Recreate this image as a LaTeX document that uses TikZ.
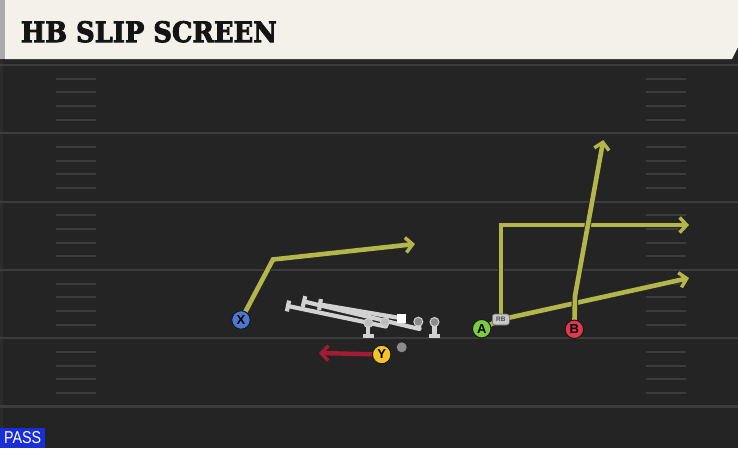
\documentclass[tikz,border=0pt]{standalone}
\usepackage{fontspec}
\usepackage{graphicx}
\setmainfont{Liberation Sans}
\newfontfamily\titlefont{DejaVu Serif}[BoldFeatures={FakeBold=3}]
\usetikzlibrary{arrows.meta,calc}
\definecolor{fieldc}{HTML}{242424}
\definecolor{linec}{HTML}{3C3C3C}
\definecolor{creamc}{HTML}{F4F1EA}
\definecolor{stripc}{HTML}{ABABAB}
\definecolor{routec}{HTML}{B4B54A}
\definecolor{redroute}{HTML}{A31B34}
\definecolor{blockc}{HTML}{D2D2D2}
\definecolor{passc}{HTML}{1A2ED8}
\definecolor{xc}{HTML}{4A78D2}
\definecolor{yc}{HTML}{F2C42A}
\definecolor{ac}{HTML}{7CCB45}
\definecolor{bc}{HTML}{E0384C}
\pgfdeclarelayer{bg}
\pgfdeclarelayer{routes}
\pgfsetlayers{bg,routes,main}
\begin{document}
\begin{tikzpicture}[x=1pt,y=-1pt,
  yard/.style={draw=linec,line width=2.2pt},
  hashm/.style={draw=linec,line width=2pt},
  route/.style={draw=routec,line width=4.6pt,line join=miter,
    preaction={draw=black!85,line width=6.4pt}},
  tip/.style={-{Straight Barb[length=7pt,width=15pt,line width=0pt 0.75]}},
  redr/.style={draw=redroute,line width=4.4pt,-{Straight Barb[length=7pt,width=15pt,line width=0pt 0.75]}},
  block/.style={draw=blockc,line width=4.2pt,line join=round},
  player/.style={circle,draw=black!90,line width=1pt,minimum size=18.5pt,inner sep=0pt,
    font=\bfseries\fontsize{13}{13}\selectfont,text=black},
  oldot/.style={circle,minimum size=9pt,inner sep=0pt,draw=blockc,line width=1pt}]
\useasboundingbox (0,0) rectangle (738,448);
\begin{pgfonlayer}{bg}
  \fill[fieldc] (0,0) rectangle (738,448);
  \fill[black!85] (0,59) rectangle (738,63);
  \fill[black!80!white,opacity=0.5] (0,59) rectangle (3,448);
  \foreach \k in {0,...,5}
    \draw[yard] (0,{65+68.3*\k}) -- (738,{65+68.3*\k});
  \foreach \k in {0,...,4}
    \foreach \i in {1,...,4}{
      \draw[hashm] (56,{65+68.3*\k+13.66*\i}) -- (96,{65+68.3*\k+13.66*\i});
      \draw[hashm] (646,{65+68.3*\k+13.66*\i}) -- (686,{65+68.3*\k+13.66*\i});
    }
  \fill[creamc] (5,0) -- (738,0) -- (738,47) -- (732,59) -- (5,59) -- cycle;
  \fill[stripc] (0,0) rectangle (5,59);
\end{pgfonlayer}
% title and tag
\node[anchor=south west,inner sep=0pt,text=black!92] (title) at (20.7,42.7)
  {\resizebox{256pt}{21pt}{\titlefont\bfseries HB SLIP SCREEN}};
\node[fill=passc,anchor=south west,minimum width=45pt,minimum height=20pt,inner sep=0pt,
  text=white] (pass) at (0,448) {\resizebox{37pt}{12pt}{PASS}};
% players
\node[player,fill=xc] (X) at (241,320) {X};
\node[player,fill=yc] (Y) at (381.7,354.5) {Y};
\node[player,fill=ac] (A) at (481.7,328.7) {A};
\node[player,fill=bc] (B) at (574.3,329.3) {B};
\node[fill=blockc!95!black,draw=black!60,line width=0.6pt,rounded corners=2.5pt,minimum width=17pt,minimum height=11pt,inner sep=0pt,
  text=black!70,font=\bfseries\fontsize{6.5}{6.5}\selectfont] (RB) at (500.8,319.5) {RB};
% line
\node[oldot,fill=blockc!90!black] (LT) at (368.3,323) {};
\node[oldot,fill=blockc!90!black] (LG) at (385,322) {};
\node[fill=white,minimum size=9pt,inner sep=0pt] (C) at (401.7,318.3) {};
\node[oldot,fill=black!45] (RG) at (418.3,321.7) {};
\node[oldot,fill=black!45] (RT) at (434.5,322) {};
\node[circle,fill=black!45,minimum size=10pt,inner sep=0pt] (QB) at (401.7,347.3) {};
% route points
\coordinate (xk) at (273,259.5);
\coordinate (xt) at (415,244);
\coordinate (yt) at (319,353);
\coordinate (ak) at (500.8,225);
\coordinate (at1) at (689,225);
\coordinate (at2) at (689,278);
\coordinate (bk) at (575,296);
\coordinate (bt) at (603.3,140);
\coordinate (lgk) at (386,326.5);
\coordinate (rgk) at (419.5,329);
\coordinate (t1) at (288,306);
\coordinate (t2) at (304,301.5);
\coordinate (t3) at (320,304.5);
\coordinate (ltb) at (368.3,336);
\coordinate (rtb) at (434.5,336);
\begin{pgfonlayer}{routes}
  \draw[route,tip] (X.center) -- (xk) -- (xt);
  \draw[redr] (Y.center) -- (yt);
  \draw[route] (A.center) -- (RB.center);
  \draw[route,tip] (RB.center) -- (ak) -- (at1);
  \draw[route,tip] (RB.center) -- (at2);
  \draw[route,tip] (B.center) -- (bk) -- (bt);
  % blocking
  \draw[block] (LG.center) -- (lgk) -- (t1);
  \draw[block] ($(t1)!5.5pt!90:(lgk)$) -- ($(t1)!5.5pt!-90:(lgk)$);
  \draw[block] (RG.center) -- (rgk) -- (t2);
  \draw[block] ($(t2)!5.5pt!90:(rgk)$) -- ($(t2)!5.5pt!-90:(rgk)$);
  \draw[block] (C.center) -- (t3);
  \draw[block] ($(t3)!5.5pt!90:(C.center)$) -- ($(t3)!5.5pt!-90:(C.center)$);
  \draw[block] (LT.center) -- (ltb);
  \draw[block,line width=4.5pt] ($(ltb)+(-5.5,0)$) -- ($(ltb)+(5.5,0)$);
  \draw[block] (RT.center) -- (rtb);
  \draw[block,line width=4.5pt] ($(rtb)+(-5.5,0)$) -- ($(rtb)+(5.5,0)$);
\end{pgfonlayer}
\end{tikzpicture}
\end{document}
